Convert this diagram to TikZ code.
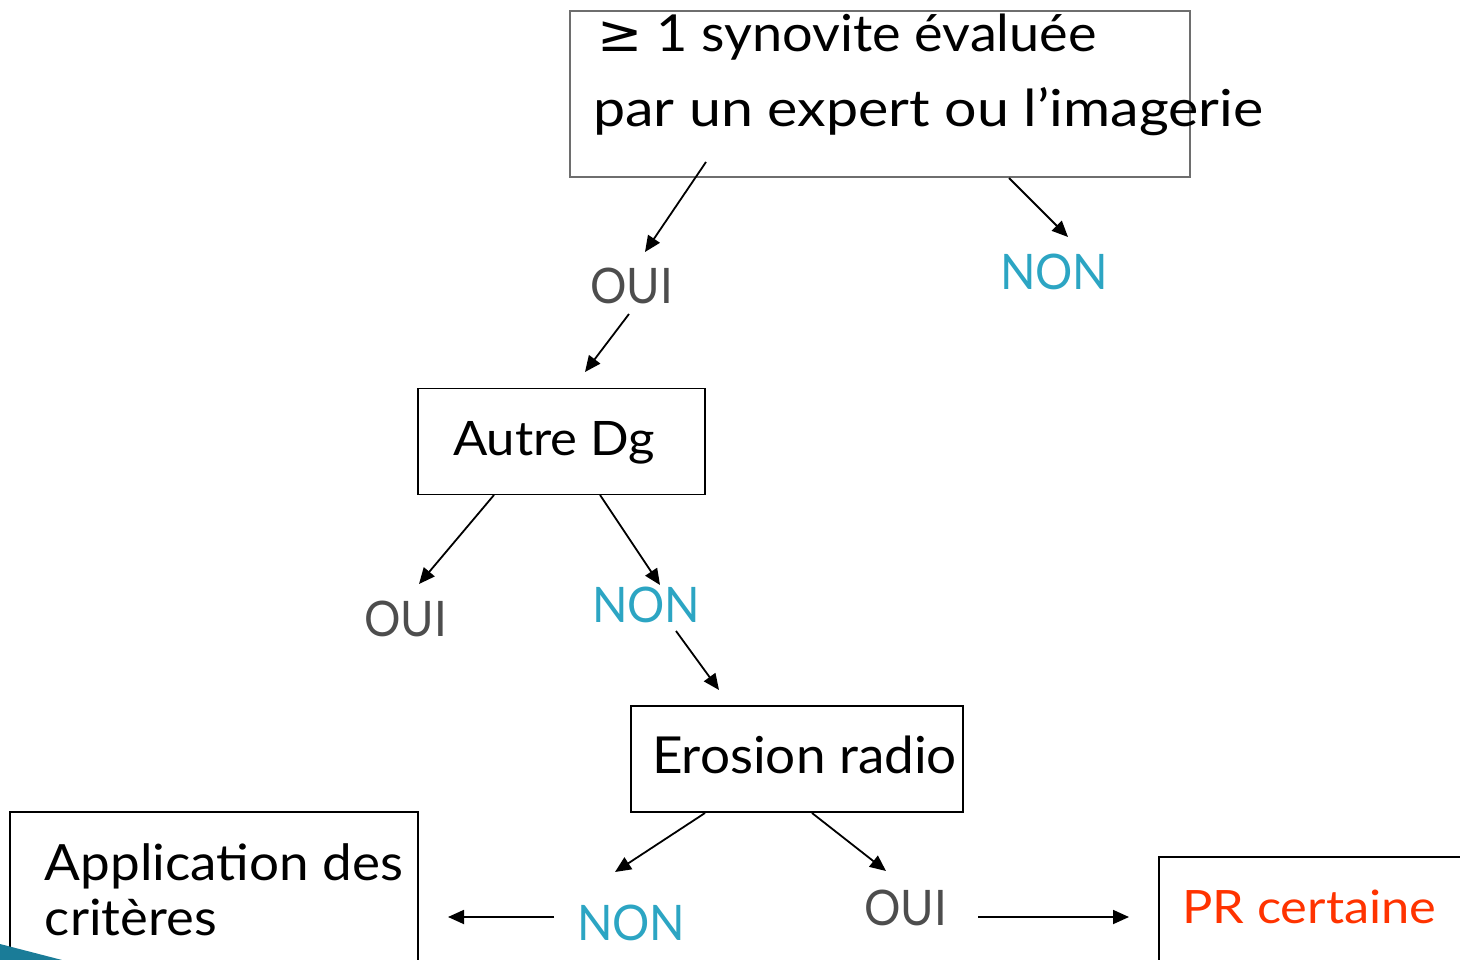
\documentclass[tikz,border=0pt]{standalone}
\usepackage{graphicx}
\usepackage{fontspec}
\setmainfont{Lato}
\newfontfamily\symfont{DejaVu Sans}
\usetikzlibrary{arrows.meta}

\definecolor{nontxt}{RGB}{44,165,195}
\definecolor{ouitxt}{RGB}{77,77,77}
\definecolor{prtxt}{RGB}{255,51,0}
\definecolor{topframe}{RGB}{110,110,110}
\definecolor{swoosh}{RGB}{26,124,152}

\newcommand{\fsz}[1]{\fontsize{#1}{#1}\selectfont}
% horizontal stretch of a text, height unchanged
\newcommand{\hstretch}[2]{\scalebox{#1}[1]{#2}}

\tikzset{
  box/.style={draw=black, line width=1.6pt, inner sep=0pt, rectangle},
  txt/.style={anchor=base west, inner sep=0pt, outer sep=0pt},
  oui/.style={txt, text=ouitxt, font=\fsz{49}},
  non/.style={txt, text=nontxt, font=\fsz{49}},
  link/.style={draw=black, line width=1.8pt, -{Triangle[length=16pt,width=14pt]}},
}

\begin{document}
\begin{tikzpicture}[x=1pt,y=-1pt]
\useasboundingbox (0,0) rectangle (1460,960);

% boxes
\node[box, draw=topframe, minimum width=620pt, minimum height=166pt] (synbox) at (880,94) {};
\node[box, minimum width=287pt, minimum height=106pt] (dgbox) at (561.5,441.5) {};
\node[box, minimum width=332pt, minimum height=106pt] (erobox) at (797,759) {};
\draw[line width=1.6pt] (10,962) |- (418,812) -- (418,962);
\draw[line width=1.6pt] (1159,962) |- (1462,857);

% box texts
\node[txt, font=\fsz{51}] (syn1) at (597,52) {\hstretch{1.06}{{\symfont ≥} 1 synovite évaluée}};
\node[txt, font=\fsz{51}] (syn2) at (593,127) {\hstretch{1.124}{par un expert ou l’imagerie}};
\node[txt, font=\fsz{47.5}] (dgtxt) at (453,455) {\hstretch{1.07}{Autre Dg}};
\node[txt, font=\fsz{51}] (erotxt) at (652,773) {\hstretch{1.04}{Erosion radio}};
\node[txt, font=\fsz{50}] (app1) at (45,880) {\hstretch{1.06}{Application des}};
\node[txt, font=\fsz{50}] (app2) at (45,935) {\hstretch{1.05}{critères}};
\node[txt, text=prtxt, font=\fsz{46}] (prtxt) at (1182,923) {\hstretch{1.10}{PR certaine}};

% answer labels
\node[oui] (oui1) at (590,303) {\hstretch{0.93}{OUI}};
\node[non] (non1) at (1000,290) {\hstretch{0.95}{NON}};
\node[oui] (oui2) at (364,636) {\hstretch{0.93}{OUI}};
\node[non] (non2) at (592,622) {\hstretch{0.95}{NON}};
\node[non] (non3) at (577,940) {\hstretch{0.95}{NON}};
\node[oui] (oui3) at (864,925) {\hstretch{0.93}{OUI}};

% connector end points
\coordinate (a1s) at (706,162);  \coordinate (a1e) at (645,252);
\coordinate (a2s) at (1009,178); \coordinate (a2e) at (1068,237);
\coordinate (a3s) at (629,314);  \coordinate (a3e) at (585,372);
\coordinate (a4s) at (494,495);  \coordinate (a4e) at (419,584);
\coordinate (a5s) at (600,495);  \coordinate (a5e) at (660,585);
\coordinate (a6s) at (676,631);  \coordinate (a6e) at (719,690);
\coordinate (a7s) at (705,813);  \coordinate (a7e) at (615,872);
\coordinate (a8s) at (812,813);  \coordinate (a8e) at (886,871);
\coordinate (a9s) at (554,917);  \coordinate (a9e) at (448,917);
\coordinate (a10s) at (978,917); \coordinate (a10e) at (1129,917);

\foreach \i in {1,...,10} \draw[link] (a\i s) -- (a\i e);

% corner ornament
\fill[swoosh] (0,944) -- (62,960) -- (0,960) -- cycle;
\end{tikzpicture}
\end{document}
